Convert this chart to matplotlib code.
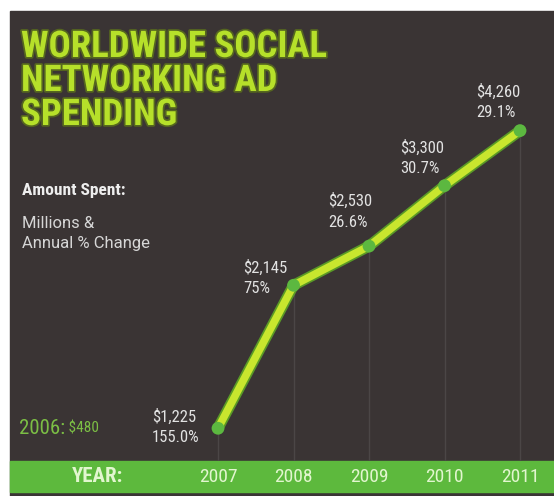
import matplotlib
matplotlib.use("Agg")
import matplotlib.pyplot as plt
import matplotlib.patheffects as pe
from matplotlib.patches import Rectangle
from matplotlib.font_manager import fontManager

# ---- data -------------------------------------------------------------
years = [2007, 2008, 2009, 2010, 2011]
spend = [1225, 2145, 2530, 3300, 4260]          # millions of US$
change = ["155.0%", "75%", "26.6%", "30.7%", "29.1%"]
base_label = "2006:"
base_value = "$480"
title_lines = ["WORLDWIDE SOCIAL", "NETWORKING AD", "SPENDING"]

# label offsets (pixels, relative to each point: dx, dy of first line)
label_offsets = [(-66, 12), (-50, 18), (-41, 45), (-44, 38), (-44, 39)]

# ---- style ------------------------------------------------------------
installed = {f.name for f in fontManager.ttflist}
prefs = ["Roboto Condensed", "Liberation Sans Narrow", "Open Sans Condensed", "Roboto"]
main_font = next((p for p in prefs if p in installed), "DejaVu Sans")
FONT = [main_font, "DejaVu Sans"]
NOTE_FONT = ["Roboto", "DejaVu Sans"]

BG = "#3a3434"
BAND = "#5db93d"
LIME = "#c8e62e"
LINE_EDGE = "#5a9a26"
DOT = "#5cb840"
TEXT = "#e2e2e2"
YEAR_TXT = "#e2f6cf"

W, H, DPI = 554, 496, 100
fig = plt.figure(figsize=(W / DPI, H / DPI), dpi=DPI, facecolor="white")

def fx(px):
    return px / W

def fy(py):
    return 1 - py / H

# dark panel and green year band (behind the axes)
fig.patches.append(Rectangle((fx(10), 0), fx(554) - fx(10), fy(11),
                             transform=fig.transFigure, color=BG, zorder=-3))
fig.patches.append(Rectangle((fx(10), fy(492)), fx(554) - fx(10), fy(461) - fy(492),
                             transform=fig.transFigure, color=BAND, zorder=-2))

# plotting axes covering the panel above the band
ax = fig.add_axes([fx(10), fy(461), fx(554) - fx(10), fy(11) - fy(461)])
ax.set_facecolor("none")

# compressive power scale for the spending axis
def _fwd(v):
    return -(abs(v) + 1e-9) ** -0.2

def _inv(t):
    return (abs(t) + 1e-12) ** -5.0

ax.set_yscale("function", functions=(_fwd, _inv))
ax.set_xlim(2004.245, 2011.45)
ax.set_ylim(1086.6, 7792)
ax.axis("off")

# faint vertical guides
ymin = ax.get_ylim()[0]
ax.vlines(years, ymin, spend, colors="#4b4646", lw=1.0, zorder=1)

# main line
ax.plot(years, spend, color=LIME, lw=5.5, solid_capstyle="round", solid_joinstyle="round",
        zorder=3,
        path_effects=[pe.Stroke(linewidth=8, foreground=LINE_EDGE), pe.Normal()])
ax.scatter(years, spend, s=85, color=DOT, zorder=4, edgecolors="none")

# value labels
for x, v, c, (dx, dy) in zip(years, spend, change, label_offsets):
    ax.annotate(f"${v:,}", xy=(x, v), xytext=(dx * 0.72, dy * 0.72),
                textcoords="offset points", ha="left", va="center",
                fontsize=12, color=TEXT, family=FONT)
    ax.annotate(c, xy=(x, v), xytext=(dx * 0.72, (dy - 21) * 0.72),
                textcoords="offset points", ha="left", va="center",
                fontsize=12, color=TEXT, family=FONT)

# title
for i, line in enumerate(title_lines):
    fig.text(fx(21), fy(47 + 34 * i), line, ha="left", va="center",
             fontsize=26.5, fontweight="bold", color="#b6e02a", family=FONT,
             path_effects=[pe.withStroke(linewidth=2.5, foreground="#55661f")])

# side notes
fig.text(fx(22), fy(190), "Amount Spent:", ha="left", va="center",
         fontsize=12.5, fontweight="bold", color="#eeeeee", family=FONT)
fig.text(fx(22), fy(224), "Millions &", ha="left", va="center",
         fontsize=12, color="#d6d6d6", family=NOTE_FONT)
fig.text(fx(22), fy(243), "Annual % Change", ha="left", va="center",
         fontsize=12, color="#d6d6d6", family=NOTE_FONT)

t2006 = fig.text(fx(19), fy(428), base_label, ha="left", va="center",
                 fontsize=15, color="#7cbf45", family=FONT)
ax.annotate(" " + base_value, xy=(1.0, 0.45), xycoords=t2006,
            ha="left", va="center", fontsize=11, color="#7cbf45", family=FONT,
            annotation_clip=False)

# year band labels
fig.text(fx(98), fy(477), "YEAR:", ha="center", va="center",
         fontsize=15, fontweight="bold", color=YEAR_TXT, family=FONT)
for x in years:
    px = ax.transData.transform((x, ymin))[0]
    fig.text(px / W, fy(477), str(x), ha="center", va="center",
             fontsize=14, color=YEAR_TXT, family=FONT)

fig.savefig("out.png", dpi=DPI, facecolor="white")
